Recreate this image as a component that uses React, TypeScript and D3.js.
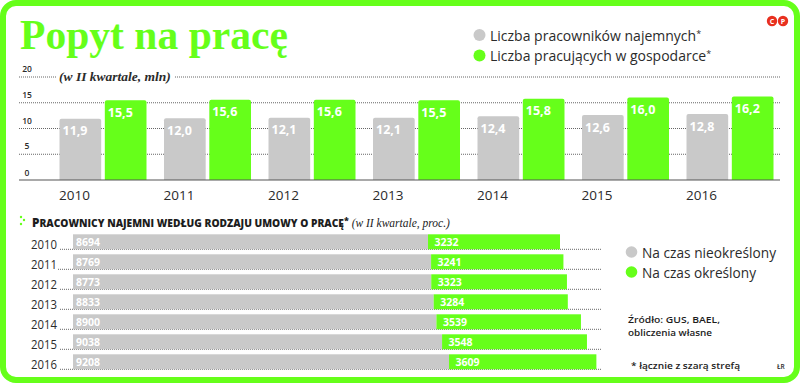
import React from "react";
import * as d3 from "d3";

const years = ["2010", "2011", "2012", "2013", "2014", "2015", "2016"];
const employees = [11.9, 12.0, 12.1, 12.1, 12.4, 12.6, 12.8];
const workers = [15.5, 15.6, 15.6, 15.5, 15.8, 16.0, 16.2];
const yTicks = [0, 5, 10, 15, 20];
const permanent = [8694, 8769, 8773, 8833, 8900, 9038, 9208];
const temporary = [3232, 3241, 3323, 3284, 3539, 3548, 3609];

const GREEN = "#66ff1a";
const GREY = "#c9c9c9";
const INK = "#2b2b2b";
const SANS = "'Open Sans', 'Noto Sans', sans-serif";
const SERIF = "'Liberation Serif', serif";
const fmt = (v: number) => v.toFixed(1).replace(".", ",");

const yScale = d3.scaleLinear().domain([0, 20]).range([180, 77]);
const xYear = d3.scaleBand().domain(years).range([59.5, 59.5 + 7 * 104.5]).paddingInner(0).paddingOuter(0);
const xInner = d3.scaleBand().domain(["a", "b"]).range([0, 87]).paddingInner(0.08);
const xTotal = d3.scaleLinear().domain([0, 11926]).range([73, 560]);
const yRow = d3.scaleBand().domain(years).range([234.3, 234.3 + 135]).paddingInner(0.25).paddingOuter(0);

function topBar(x: number, y: number, w: number, h: number, r: number) {
  const p = d3.path();
  p.moveTo(x, y + h);
  p.lineTo(x, y + r);
  p.quadraticCurveTo(x, y, x + r, y);
  p.lineTo(x + w - r, y);
  p.quadraticCurveTo(x + w, y, x + w, y + r);
  p.lineTo(x + w, y + h);
  p.closePath();
  return p.toString();
}

const Star = () => <tspan fontSize={9} dy={-4}>*</tspan>;

export default function App() {
  return (
    <svg width={810} height={390} style={{ position: "absolute", left: 0, top: 0, background: "#fff" }}>
      <rect x={3} y={3} width={794} height={377} rx={13} fill="#fff" stroke={GREEN} strokeWidth={6} />
      <text x={20} y={49} fontFamily={SERIF} fontWeight={700} fontSize={42} fill={GREEN} textLength={268} lengthAdjust="spacingAndGlyphs">Popyt na pracę</text>

      <g fill="#e8301f">
        <circle cx={772} cy={21} r={5.2} />
        <circle cx={783} cy={21} r={5.2} />
      </g>
      <g fill="#fff" fontFamily={SANS} fontWeight={700} fontSize={7} textAnchor="middle">
        <text x={772} y={23.5}>C</text>
        <text x={783} y={23.5}>P</text>
      </g>

      {/* legend top */}
      <circle cx={479.5} cy={35} r={6} fill={GREY} />
      <circle cx={479.5} cy={55.5} r={6} fill={GREEN} />
      <g fontFamily={SANS} fontSize={14} fill={INK}>
        <text x={490} y={41}>Liczba pracowników najemnych<Star /></text>
        <text x={490} y={61}>Liczba pracujących w gospodarce<Star /></text>
      </g>

      {/* y axis & grid */}
      {yTicks.map((t) => (
        <g key={t}>
          <text x={27} y={yScale(t) - (t === 0 ? 4 : 5)} fontFamily={SANS} fontWeight={600} fontSize={8.5} fill={INK} textAnchor="middle">{t}</text>
          {t > 0 && (
            <line x1={19} x2={781} y1={yScale(t)} y2={yScale(t)} stroke="#666" strokeWidth={1} strokeDasharray="1 1" />
          )}
        </g>
      ))}
      <rect x={56} y={68} width={118} height={16} fill="#fff" />
      <text x={59} y={81} fontFamily={SERIF} fontStyle="italic" fontWeight={700} fontSize={13.5} fill={INK}>(w II kwartale, mln)</text>

      {/* top bars */}
      {years.map((yr, i) => {
        const x0 = xYear(yr)!;
        const ga = x0 + xInner("a")!;
        const gb = x0 + xInner("b")!;
        const w = xInner.bandwidth();
        return (
          <g key={yr}>
            <path d={topBar(ga, yScale(employees[i]), w, 180 - yScale(employees[i]), 2)} fill={GREY} />
            <path d={topBar(gb, yScale(workers[i]), w, 180 - yScale(workers[i]), 2)} fill={GREEN} />
            <text x={ga + 3} y={yScale(employees[i]) + 16.5} fontFamily={SANS} fontWeight={700} fontSize={12.5} fill="#fff">{fmt(employees[i])}</text>
            <text x={gb + 3} y={yScale(workers[i]) + 16.5} fontFamily={SANS} fontWeight={700} fontSize={12.5} fill="#fff">{fmt(workers[i])}</text>
            <text x={x0 + 15} y={200} fontFamily={SANS} fontSize={13.5} fill={INK} textAnchor="middle">{yr}</text>
          </g>
        );
      })}
      <line x1={19} x2={780} y1={180} y2={180} stroke="#555" strokeWidth={1.2} />

      {/* lower heading */}
      <g fill={GREEN}>
        <circle cx={21} cy={217} r={1.2} />
        <circle cx={24} cy={220} r={1.2} />
        <circle cx={21} cy={224} r={1.2} />
      </g>
      <text x={32} y={226.5} fontFamily={SANS} fontWeight={800} fontSize={11.8} fill="#1d1d1d">
        P<tspan fontSize={10.2}>RACOWNICY NAJEMNI WEDŁUG RODZAJU UMOWY O PRACĘ</tspan><tspan fontSize={9} dy={-3}>*</tspan>
        <tspan fontFamily={SERIF} fontStyle="italic" fontWeight={400} fontSize={11.5} dy={3}> (w II kwartale, proc.)</tspan>
      </text>

      {/* lower bars */}
      {years.map((yr, i) => {
        const y = yRow(yr)!;
        const h = yRow.bandwidth();
        const mid = xTotal(permanent[i]);
        const end = xTotal(permanent[i] + temporary[i]);
        return (
          <g key={yr}>
            <text x={31} y={y + 15} fontFamily={SANS} fontSize={13} fill={INK} textLength={26} lengthAdjust="spacingAndGlyphs">{yr}</text>
            <line x1={i === 1 ? 58 : 60} x2={601.5} y1={y + h} y2={y + h} stroke="#666" strokeWidth={1} strokeDasharray="1 1" />
            <rect x={xTotal(0)} y={y} width={mid - xTotal(0)} height={h} fill={GREY} />
            <rect x={mid} y={y} width={end - mid} height={h} fill={GREEN} />
            <text x={76} y={y + 12} fontFamily={SANS} fontWeight={700} fontSize={10.5} fill="#fff">{permanent[i]}</text>
            <text x={mid + 6.5} y={y + 12} fontFamily={SANS} fontWeight={700} fontSize={10.5} fill="#fff">{temporary[i]}</text>
          </g>
        );
      })}

      {/* legend lower */}
      <circle cx={631.5} cy={252} r={5.8} fill={GREY} />
      <circle cx={631.5} cy={272} r={5.8} fill={GREEN} />
      <g fontFamily={SANS} fontSize={14} fill={INK}>
        <text x={642} y={258} textLength={134} lengthAdjust="spacingAndGlyphs">Na czas nieokreślony</text>
        <text x={642} y={278} textLength={114} lengthAdjust="spacingAndGlyphs">Na czas określony</text>
      </g>
      <g fontFamily={SANS} fontWeight={600} fontSize={9.5} fill="#1d1d1d">
        <text x={628} y={323} textLength={92} lengthAdjust="spacingAndGlyphs">Źródło: GUS, BAEL,</text>
        <text x={628} y={336} textLength={84} lengthAdjust="spacingAndGlyphs">obliczenia własne</text>
        <text x={631} y={369} textLength={109} lengthAdjust="spacingAndGlyphs">* łącznie z szarą strefą</text>
        <text x={777} y={369} fontSize={6.5}>ŁR</text>
      </g>
    </svg>
  );
}
